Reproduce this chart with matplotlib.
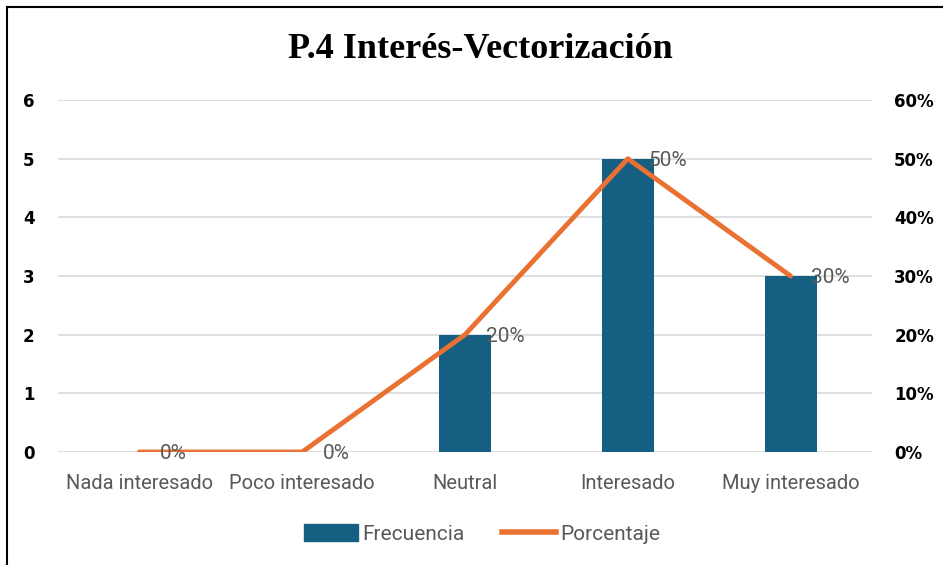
import matplotlib
matplotlib.use("Agg")
import matplotlib.pyplot as plt
from matplotlib.lines import Line2D

categories = ["Nada interesado", "Poco interesado", "Neutral", "Interesado", "Muy interesado"]
frecuencia = [0, 0, 2, 5, 3]
porcentaje = [0.0, 0.0, 0.20, 0.50, 0.30]
left_ticks = [0, 1, 2, 3, 4, 5, 6]
right_ticks = [0.0, 0.1, 0.2, 0.3, 0.4, 0.5, 0.6]

W, H = 943, 565
fig = plt.figure(figsize=(W / 100, H / 100), dpi=100)
ax = fig.add_axes([58 / W, 1 - 452 / H, (872 - 58) / W, (452 - 100) / H])
ax2 = ax.twinx()

bar_color = "#155F82"
line_color = "#E97132"
x = list(range(len(categories)))

ax.bar(x, frecuencia, width=0.32, color=bar_color, zorder=2)
ax.set_xlim(-0.5, len(categories) - 0.5)
ax.set_ylim(0, 6)
ax.set_yticks(left_ticks)
ax.set_yticklabels([str(t) for t in left_ticks], fontweight="bold", fontsize=12)
ax.yaxis.grid(True, color="#D9D9D9", linewidth=1.2, zorder=0)
ax.set_axisbelow(True)
for s in ax.spines.values():
    s.set_visible(False)
ax.tick_params(axis="y", length=0, pad=17)
ax.tick_params(axis="x", length=0, pad=15.5)
ax.set_xticks(x)
ax.set_xticklabels(categories, color="#595959", fontsize=14.5, family="Roboto")

ax2.plot(x, porcentaje, color=line_color, linewidth=3.5, zorder=3, solid_capstyle="round")
ax2.set_ylim(0, 0.6)
ax2.set_yticks(right_ticks)
ax2.set_yticklabels([f"{int(round(t*100))}%" for t in right_ticks], fontweight="bold", fontsize=12)
ax2.tick_params(axis="y", length=0, pad=16)
for s in ax2.spines.values():
    s.set_visible(False)

for xi, p in zip(x, porcentaje):
    ax2.annotate(f"{int(round(p*100))}%", (xi, p), xytext=(15, -1), textcoords="offset points",
                 ha="left", va="center", color="#595959", fontsize=15, family="Roboto")

fig.text(480 / W, 1 - 50 / H, "P.4 Interés-Vectorización", ha="center", va="center",
         fontsize=26, fontweight="bold", family="Liberation Serif")

handles = [
    plt.Rectangle((0, 0), 1, 1, color=bar_color),
    Line2D([0], [0], color=line_color, linewidth=4),
]
fig.legend(handles, ["Frecuencia", "Porcentaje"], loc="center", bbox_to_anchor=(482 / W, 1 - 534 / H),
           ncol=2, frameon=False, prop={"family": "Roboto", "size": 15}, labelcolor="#595959",
           handlelength=2.6, handleheight=0.9, handletextpad=0.2, columnspacing=1.8)

# border lines (left and top)
fig.add_artist(Line2D([7 / W, 7 / W], [0, 1 - 7 / H], color="black", linewidth=1.5, transform=fig.transFigure))
fig.add_artist(Line2D([7 / W, 1], [1 - 7 / H, 1 - 7 / H], color="black", linewidth=1.5, transform=fig.transFigure))

fig.savefig("out.png", dpi=100)
